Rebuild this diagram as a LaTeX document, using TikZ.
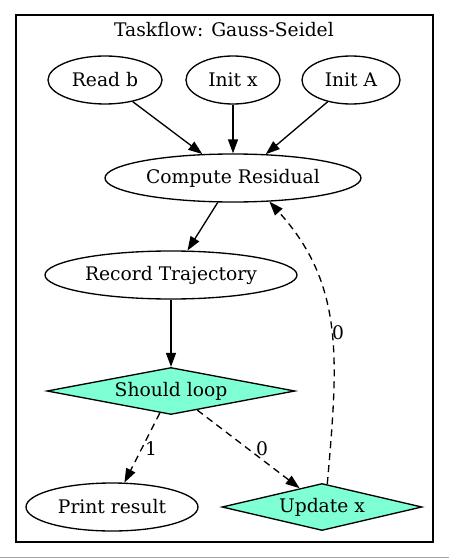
\documentclass[tikz,border=0pt]{standalone}
\usepackage{fontspec}
\setmainfont{DejaVu Serif}
\usetikzlibrary{shapes.geometric, arrows.meta, positioning}
\definecolor{tfaqua}{HTML}{7FFFD4}
\tikzset{
    tfellipse/.style={ellipse, draw=black, line width=1.33pt, inner sep=0pt, minimum height=48pt},
    tfdiamond/.style={diamond, draw=black, fill=tfaqua, line width=1.33pt, inner sep=0pt, minimum height=47pt},
    tfedge/.style={line width=1.33pt, -{Triangle[length=14pt,width=10pt]}},
    tfdash/.style={tfedge, dash pattern=on 7pt off 5pt}
}

\begin{document}
\begin{tikzpicture}[x=1pt, y=-1pt, font=\fontsize{18.7pt}{22pt}\selectfont]
    \useasboundingbox (0, 0) rectangle (449, 559);

    % cluster frame and title
    \draw[line width=1.33pt] (16, 15) rectangle (433, 542);
    \node (title) at (224, 30) {Taskflow: Gauss-Seidel};

    \node[tfellipse, minimum width=114pt] (rb) at (105, 80) {Read b};
    \node[tfellipse, minimum width=94pt] (ix) at (233, 80) {Init x};
    \node[tfellipse, minimum width=98pt] (ia) at (351, 80) {Init A};
    \node[tfellipse, minimum width=256pt] (cr) at (233, 178) {Compute Residual};
    \node[tfellipse, minimum width=252pt] (rt) at (171, 275) {Record Trajectory};
    \node[tfdiamond, aspect=6, minimum width=248pt] (sl) at (171, 391) {Should loop};
    \node[tfellipse, minimum width=172pt] (pr) at (112, 507) {Print result};
    \node[tfdiamond, aspect=4, minimum width=200pt] (ux) at (322, 507) {Update x};

    \node (lab1) at (151, 449) {1};
    \node (lab0a) at (262, 449) {0};
    \node (lab0b) at (338, 333) {0};

    \draw[tfedge] (rb.-38) -- (cr.142);
    \draw[tfedge] (ix) -- (cr);
    \draw[tfedge] (ia.-137) -- (cr.36);
    \draw[tfedge] (cr.-122) -- (rt.56);
    \draw[tfedge] (rt) -- (sl);

    \draw[tfdash] (sl.-117) -- (pr.63);
    \draw[tfdash] (sl.-36) -- (ux.140);
    \draw[tfdash] (ux.77) .. controls (338, 360) and (345, 285) .. (cr.-33);

    % bottom rule of the page
    \draw[gray!70, line width=1.5pt] (0, 557.5) -- (449, 557.5);
\end{tikzpicture}
\end{document}
